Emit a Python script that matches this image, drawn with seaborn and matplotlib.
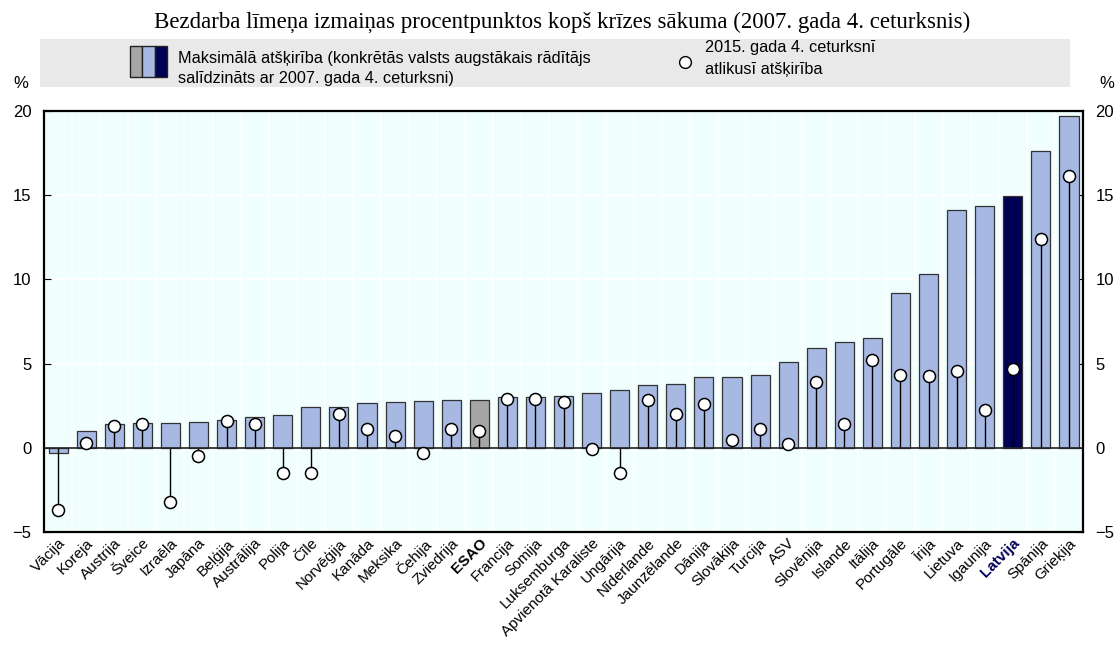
import matplotlib
matplotlib.use("Agg")
import matplotlib.pyplot as plt
from matplotlib.patches import Rectangle
import seaborn as sns
import pandas as pd

# data
countries = ["Vācija", "Koreja", "Austrija", "Šveice", "Izraēla", "Japāna", "Beļģija",
             "Austrālija", "Polija", "Čīle", "Norvēģija", "Kanāda", "Meksika", "Čehija",
             "Zviedrija", "ESAO", "Francija", "Somija", "Luksemburga", "Apvienotā Karaliste",
             "Ungārija", "Nīderlande", "Jaunzēlande", "Dānija", "Slovākija", "Turcija", "ASV",
             "Slovēnija", "Islande", "Itālija", "Portugāle", "Īrija", "Lietuva", "Igaunija",
             "Latvija", "Spānija", "Grieķija"]
peak_gap = [-0.3, 1.0, 1.4, 1.5, 1.5, 1.55, 1.65, 1.85, 1.95, 2.4, 2.45, 2.65, 2.7, 2.8,
            2.85, 2.85, 3.0, 3.0, 3.1, 3.25, 3.45, 3.75, 3.8, 4.2, 4.2, 4.35, 5.1,
            5.9, 6.3, 6.5, 9.2, 10.35, 14.1, 14.38, 14.98, 17.6, 19.7]
gap_2015q4 = [-3.7, 0.3, 1.3, 1.4, -3.2, -0.5, 1.6, 1.4, -1.5, -1.5, 2.0, 1.1, 0.7, -0.3,
              1.1, 1.0, 2.9, 2.9, 2.7, -0.05, -1.5, 2.85, 2.0, 2.6, 0.45, 1.1, 0.2,
              3.88, 1.4, 5.24, 4.34, 4.28, 4.58, 2.25, 4.66, 12.4, 16.15]

BAR = "#A7B9E3"
OECD = "#A6A6A6"
LV = "#000055"

df = pd.DataFrame({"country": countries, "peak": peak_gap, "now": gap_2015q4})
colors = [OECD if c == "ESAO" else LV if c == "Latvija" else BAR for c in countries]

plt.rcParams["font.family"] = ["Liberation Sans", "DejaVu Sans"]
fig = plt.figure(figsize=(11.18, 6.45), dpi=100)
ax = fig.add_axes([0.0394, 0.1752, 0.9293, 0.6527])
ax.set_facecolor("#F0FEFE")

sns.barplot(data=df, x="country", y="peak", hue="country", palette=colors, legend=False,
            width=0.68, edgecolor="#333333", linewidth=0.9, saturation=1, ax=ax, zorder=2)

# stems and dots
ax.vlines(range(len(countries)), 0, df["now"], color="black", linewidth=1.0, zorder=3)
sns.scatterplot(x=range(len(countries)), y=df["now"], ax=ax, s=75, color="white",
                edgecolor="black", linewidth=1.1, zorder=4, legend=False)

ax.axhline(0, color="#222222", linewidth=1.2, zorder=3)
for v in [5, 10, 15]:
    ax.axhline(v, color="white", linewidth=1.2, zorder=1)
for i in range(len(countries) - 1):
    ax.axvline(i + 0.5, color="white", linewidth=1.2, zorder=1)

ax.set_xlim(-0.5, len(countries) - 0.5)
ax.set_ylim(-5, 20)
ax.set_yticks([-5, 0, 5, 10, 15, 20])
ax.tick_params(axis="y", direction="in", length=5, labelsize=12, left=True, right=True,
               labelleft=True, labelright=True, pad=9)
ax.tick_params(axis="x", length=0, labelsize=11, pad=3)
ax.set_xlabel("")
ax.set_ylabel("")
ax.set_xticks(range(len(countries)))
ax.set_xticklabels(countries, rotation=45, ha="right", rotation_mode="anchor")
for lab in ax.get_xticklabels():
    if lab.get_text() == "ESAO":
        lab.set_fontweight("bold")
    if lab.get_text() == "Latvija":
        lab.set_fontweight("bold")
        lab.set_color(LV)
for s in ax.spines.values():
    s.set_linewidth(1.6)
    s.set_color("black")
ax.grid(False)

fig.text(0.019, 0.871, "%", fontsize=12, ha="center", va="center")
fig.text(0.990, 0.871, "%", fontsize=12, ha="center", va="center")

# title
fig.text(0.503, 0.966, "Bezdarba līmeņa izmaiņas procentpunktos kopš krīzes sākuma (2007. gada 4. ceturksnis)",
         fontsize=16.5, ha="center", va="center", family=["Liberation Serif", "DejaVu Serif"])

# legend band
fig.patches.append(Rectangle((0.0358, 0.865), 0.921, 0.0744, transform=fig.transFigure,
                             facecolor="#E9E9E9", edgecolor="none"))
pw = 0.011
for k, c in enumerate([OECD, BAR, LV]):
    fig.patches.append(Rectangle((0.1163 + k * pw, 0.881), pw, 0.048, transform=fig.transFigure,
                                 facecolor=c, edgecolor="#222222", linewidth=1.0))
fig.text(0.159, 0.910, "Maksimālā atšķirība (konkrētās valsts augstākais rādītājs",
         fontsize=11.7, va="center")
fig.text(0.159, 0.879, "salīdzināts ar 2007. gada 4. ceturksni)", fontsize=11.7, va="center")
fig.lines.append(plt.Line2D([0.613], [0.904], transform=fig.transFigure, marker="o",
                            markersize=8.5, markerfacecolor="white", markeredgecolor="black",
                            markeredgewidth=1))
fig.text(0.631, 0.926, "2015. gada 4. ceturksnī", fontsize=11.7, va="center")
fig.text(0.631, 0.893, "atlikusī atšķirība", fontsize=11.7, va="center")

fig.savefig("out.png", dpi=100)
